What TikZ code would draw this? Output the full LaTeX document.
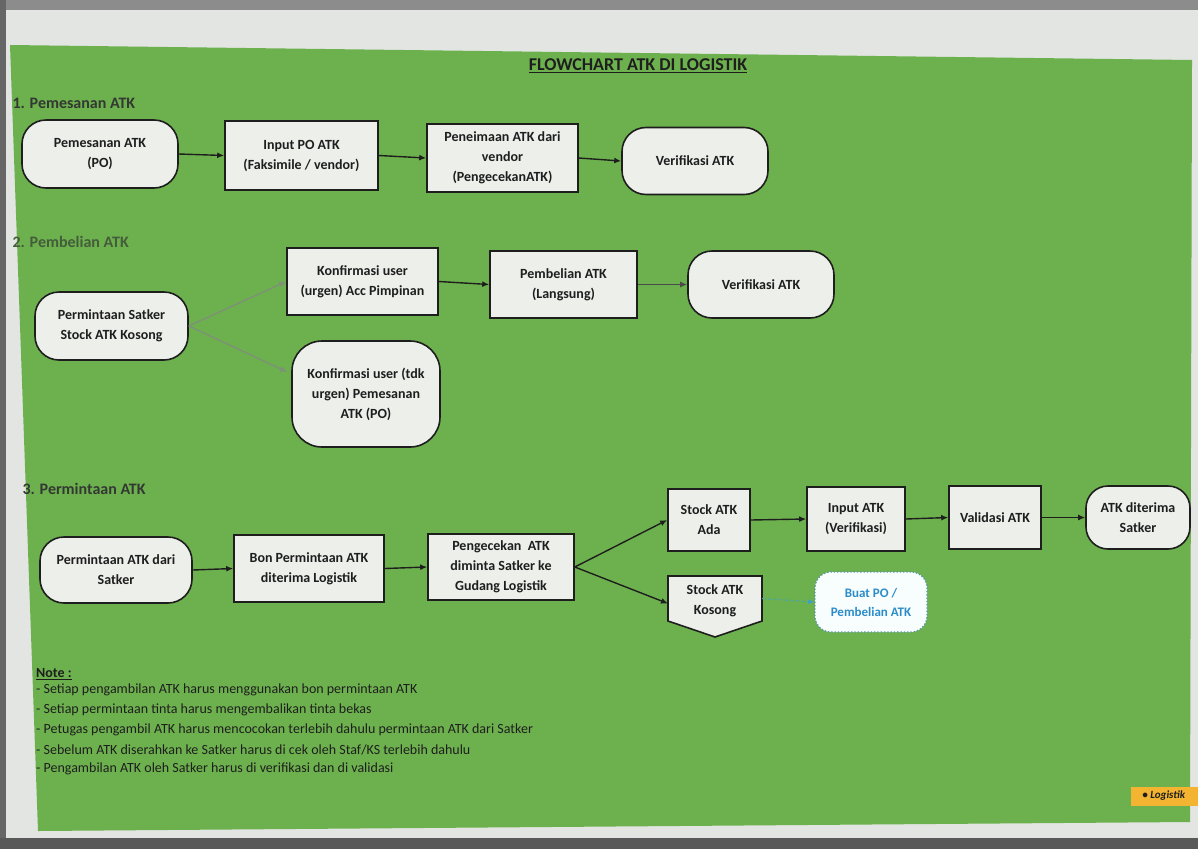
\documentclass[tikz,border=0pt]{standalone}
\usepackage{fontspec}
\setmainfont{Carlito}
\usetikzlibrary{arrows.meta,calc}
\definecolor{poster}{HTML}{6DB14E}
\definecolor{boxfill}{HTML}{EDEFEA}
\definecolor{ink}{HTML}{1E1E1E}
\definecolor{hdr}{HTML}{333833}
\definecolor{garrow}{HTML}{7E8F7A}
\definecolor{bluet}{HTML}{2B8CC8}
\definecolor{bluel}{HTML}{3A9FD0}
\definecolor{frame}{HTML}{E2E5E1}
\definecolor{tag}{HTML}{F2B431}
\begin{document}
\begin{tikzpicture}[x=1pt,y=-1pt,
  base/.style={draw=ink, line width=1.6pt, fill=boxfill, text=ink, align=center, inner sep=2pt,
    font=\bfseries\fontsize{14}{20}\selectfont},
  procbox/.style={base},
  termbox/.style={base, rounded corners=24pt},
  arr/.style={-{Latex[length=7pt,width=6pt]}, line width=1.4pt, draw=ink},
  garr/.style={-{Latex[length=7pt,width=6pt]}, line width=1.3pt, draw=garrow},
  barr/.style={-{Latex[length=6pt,width=5pt]}, line width=1.1pt, draw=bluel, dotted},
  head/.style={anchor=west, text=hdr, font=\bfseries\fontsize{16}{18}\selectfont},
  noteline/.style={anchor=west, text=ink, font=\fontsize{14}{16}\selectfont, inner sep=0pt}]
\useasboundingbox (0,0) rectangle (1198,849);
% photo surroundings
\fill[frame] (0,0) rectangle (1198,849);
\fill[black!45] (0,0) rectangle (1198,10);
\fill[black!60] (0,0) rectangle (6,849);
\fill[black!65] (0,838) rectangle (1198,849);
% poster
\fill[poster] (10,45) -- (1192,60) -- (1190,822) -- (38,831) -- cycle;

% title
\node[text=ink, font=\bfseries\fontsize{18}{20}\selectfont] (title) at (638,66) {\underline{FLOWCHART ATK DI LOGISTIK}};

% section headers
\node[head] (h1) at (9,103) {1. Pemesanan ATK};
\node[head, text=hdr!70!poster] (h2) at (9,242) {2. Pembelian ATK};
\node[head] (h3) at (19,489) {3. Permintaan ATK};

% row 1
\node[termbox, minimum width=156, minimum height=68] (p1) at (100,154) {Pemesanan ATK\\(PO)};
\node[procbox, minimum width=153, minimum height=69] (p2) at (301.5,155.5) {Input PO ATK\\(Faksimile / vendor)};
\node[procbox, minimum width=151, minimum height=68] (p3) at (502.5,158) {Peneimaan ATK dari\\vendor\\(PengecekanATK)};
\node[termbox, minimum width=146, minimum height=67] (p4) at (695,161) {Verifikasi ATK};
\draw[arr] (p1.east) -- (p2.west);
\draw[arr] (p2.east) -- (p3.west);
\draw[arr] (p3.east) -- (p4.west);

% row 2
\node[termbox, minimum width=153, minimum height=68] (s) at (111.5,326) {Permintaan Satker\\Stock ATK Kosong};
\node[procbox, minimum width=151, minimum height=67] (k1) at (362.5,281.5) {Konfirmasi user\\(urgen) Acc Pimpinan};
\node[base, rounded corners=30pt, minimum width=148, minimum height=106] (k2) at (366,394) {Konfirmasi user (tdk\\urgen) Pemesanan\\ATK (PO)};
\node[procbox, minimum width=147, minimum height=67] (pb) at (563.5,284.5) {Pembelian ATK\\(Langsung)};
\node[termbox, minimum width=146, minimum height=67] (v2) at (761,284.5) {Verifikasi ATK};
\draw[garr] (s.east) -- (k1.west);
\draw[garr] (s.east) -- ($(k2.west)+(-4,-22)$);
\draw[arr] (k1.east) -- (pb.west);
\draw[arr, draw=ink!80] (pb.east) -- (v2.west);

% row 3
\node[termbox, minimum width=152, minimum height=66] (r1) at (116,570) {Permintaan ATK dari\\Satker};
\node[procbox, minimum width=150, minimum height=67] (r2) at (309,568.5) {Bon Permintaan ATK\\diterima Logistik};
\node[procbox, minimum width=146, minimum height=66] (r3) at (501,567) {Pengecekan \ ATK\\diminta Satker ke\\Gudang Logistik};
\node[procbox, minimum width=82, minimum height=62] (a1) at (709,520) {Stock ATK\\Ada};
\node[procbox, minimum width=98, minimum height=64] (a2) at (856,519) {Input ATK\\(Verifikasi)};
\node[procbox, minimum width=92, minimum height=63] (a3) at (995,517.5) {Validasi ATK};
\node[base, rounded corners=22pt, minimum width=104, minimum height=63] (a4) at (1138,517.5) {ATK diterima\\Satker};
\coordinate (kos) at (715,598.5);
\coordinate (kosW) at (668,598.5);
\coordinate (kosE) at (762,598.5);
\draw[ink, line width=1.6pt, fill=boxfill, line join=miter]
  (668,576) -- (762,576) -- (762,621) -- (715,637) -- (668,621) -- cycle;
\node[text=ink, align=center, font=\bfseries\fontsize{14}{20}\selectfont] (kostext) at ($(kos)+(0,2)$) {Stock ATK\\Kosong};
\node[draw=bluel!60!gray, dotted, line width=1.3pt, fill=boxfill!70!cyan!8, rounded corners=16pt,
  minimum width=112, minimum height=60, text=bluet, align=center,
  font=\bfseries\fontsize{13}{19}\selectfont] (buat) at (871,602) {Buat PO /\\Pembelian ATK};
\draw[arr] (r1.east) -- (r2.west);
\draw[arr] (r2.east) -- (r3.west);
\draw[arr] (r3.east) -- (a1.west);
\draw[arr] (r3.east) -- ($(kosW)+(0,5)$);
\draw[arr] (a1.east) -- (a2.west);
\draw[arr] (a2.east) -- (a3.west);
\draw[arr] (a3.east) -- (a4.west);
\draw[barr] (kosE) -- (buat.west);

% notes
\node[noteline, font=\bfseries\fontsize{14}{16}\selectfont] (nt) at (36,674) {\underline{Note :}};
\node[noteline] (n1) at (36,690) {- Setiap pengambilan ATK harus menggunakan bon permintaan ATK};
\node[noteline] (n2) at (36,710) {- Setiap permintaan tinta harus mengembalikan tinta bekas};
\node[noteline] (n3) at (36,730) {- Petugas pengambil ATK harus mencocokan terlebih dahulu permintaan ATK dari Satker};
\node[noteline] (n4) at (36,750) {- Sebelum ATK diserahkan ke Satker harus di cek oleh Staf/KS terlebih dahulu};
\node[noteline] (n5) at (36,769) {- Pengambilan ATK oleh Satker harus di verifikasi dan di validasi};

% tag
\node[fill=tag, anchor=west, minimum height=19, minimum width=75, inner xsep=5pt, text=ink, align=left,
  font=\bfseries\itshape\fontsize{11}{12}\selectfont] (tag) at (1131,796) {\textbullet\ Logistik\hspace{10pt}};
\end{tikzpicture}
\end{document}
